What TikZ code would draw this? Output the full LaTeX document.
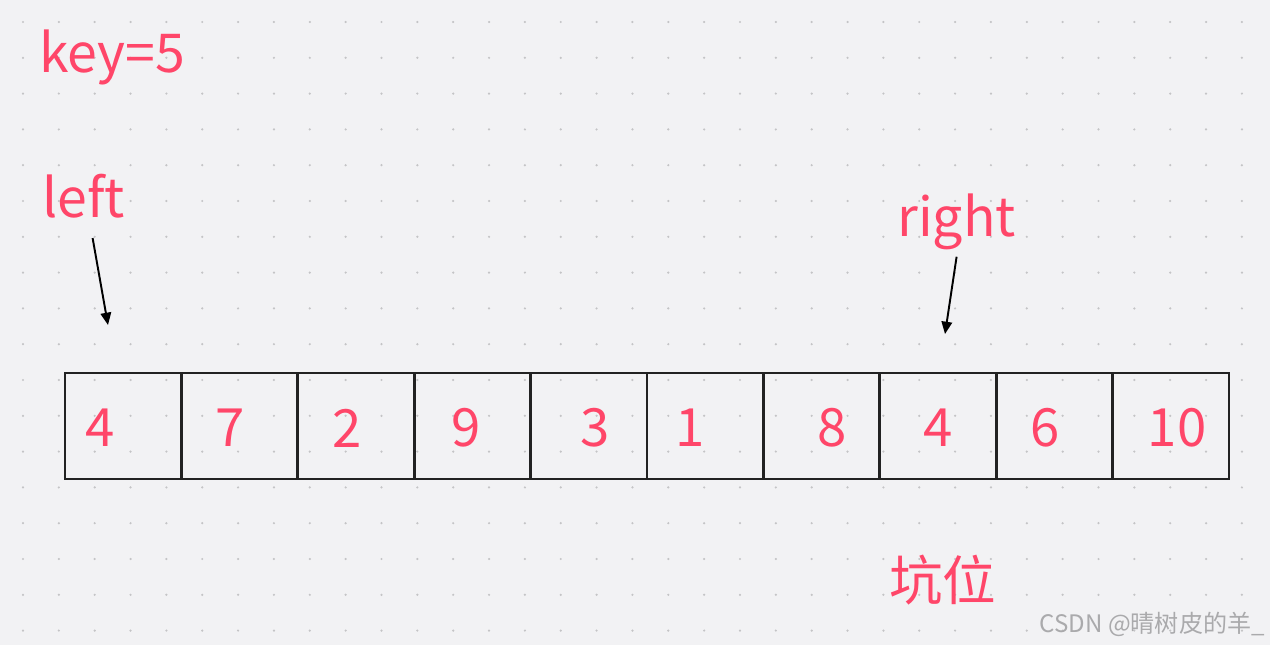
\documentclass[tikz,border=0pt]{standalone}
\usepackage{fontspec}
\setmainfont{Noto Sans CJK SC}
\usepackage{tikz}
\usetikzlibrary{arrows.meta, positioning}
\definecolor{bgpaper}{RGB}{242, 242, 244}
\definecolor{gridgray}{RGB}{196, 196, 198}
\definecolor{hotpink}{RGB}{255, 70, 105}
\definecolor{cellline}{RGB}{34, 34, 34}
\definecolor{markgray}{RGB}{170, 170, 172}

\tikzset{
  lbl/.style={text=hotpink, inner sep=0pt, font=\fontsize{30.5}{34}\selectfont},
  num/.style={text=hotpink, inner sep=0pt, font=\fontsize{30}{33}\selectfont},
  cell/.style={draw=cellline, line width=1.6pt, minimum width=2.328cm, minimum height=2.12cm, inner sep=0pt},
  ptr/.style={draw=black, line width=1.1pt, -{Triangle[length=7pt, width=6pt]}}
}

\begin{document}
\begin{tikzpicture}[x=0.02cm, y=-0.02cm]
% paper
\fill[bgpaper] (0,0) rectangle (1270,645);
\useasboundingbox (0,0) rectangle (1270,645);
\foreach \i in {0,...,34}
  \foreach \j in {0,...,17}
    \fill[gridgray] (23+35.85*\i, 22+35.8*\j) circle[radius=0.7pt];

% labels
\node[lbl, anchor=base west] (key) at (39,73) {key=5};
\node[lbl, anchor=base west] (left) at (42,217) {left};
\node[lbl, anchor=base west] (right) at (897,236) {right};
\node[lbl, anchor=west] (pit) at (889,580) {坑位};

% array cells
\foreach \i in {1,...,10}
  \node[cell] (c\i) at (65+116.4*\i-58.2, 426) {};

% values
\foreach \x/\v [count=\k] in {100/4, 230/7, 347/2, 466/9, 595/3, 690/1, 832/8, 938/4, 1045/6, 1177/10}
  \node[num] (n\k) at (\x, 428) {\v};

% pointers
\coordinate (lefttip) at (108,325);
\coordinate (righttip) at (945,334);
\draw[ptr] ([shift={(9,20)}]left.south) -- (lefttip);
\draw[ptr] ([shift={(0,7)}]right.south) -- (righttip);

% watermark
\node[text=markgray, inner sep=0pt, anchor=east, font=\fontsize{13.7}{16}\selectfont] (mark) at (1265,624) {CSDN @晴树皮的羊\_};
\end{tikzpicture}
\end{document}
